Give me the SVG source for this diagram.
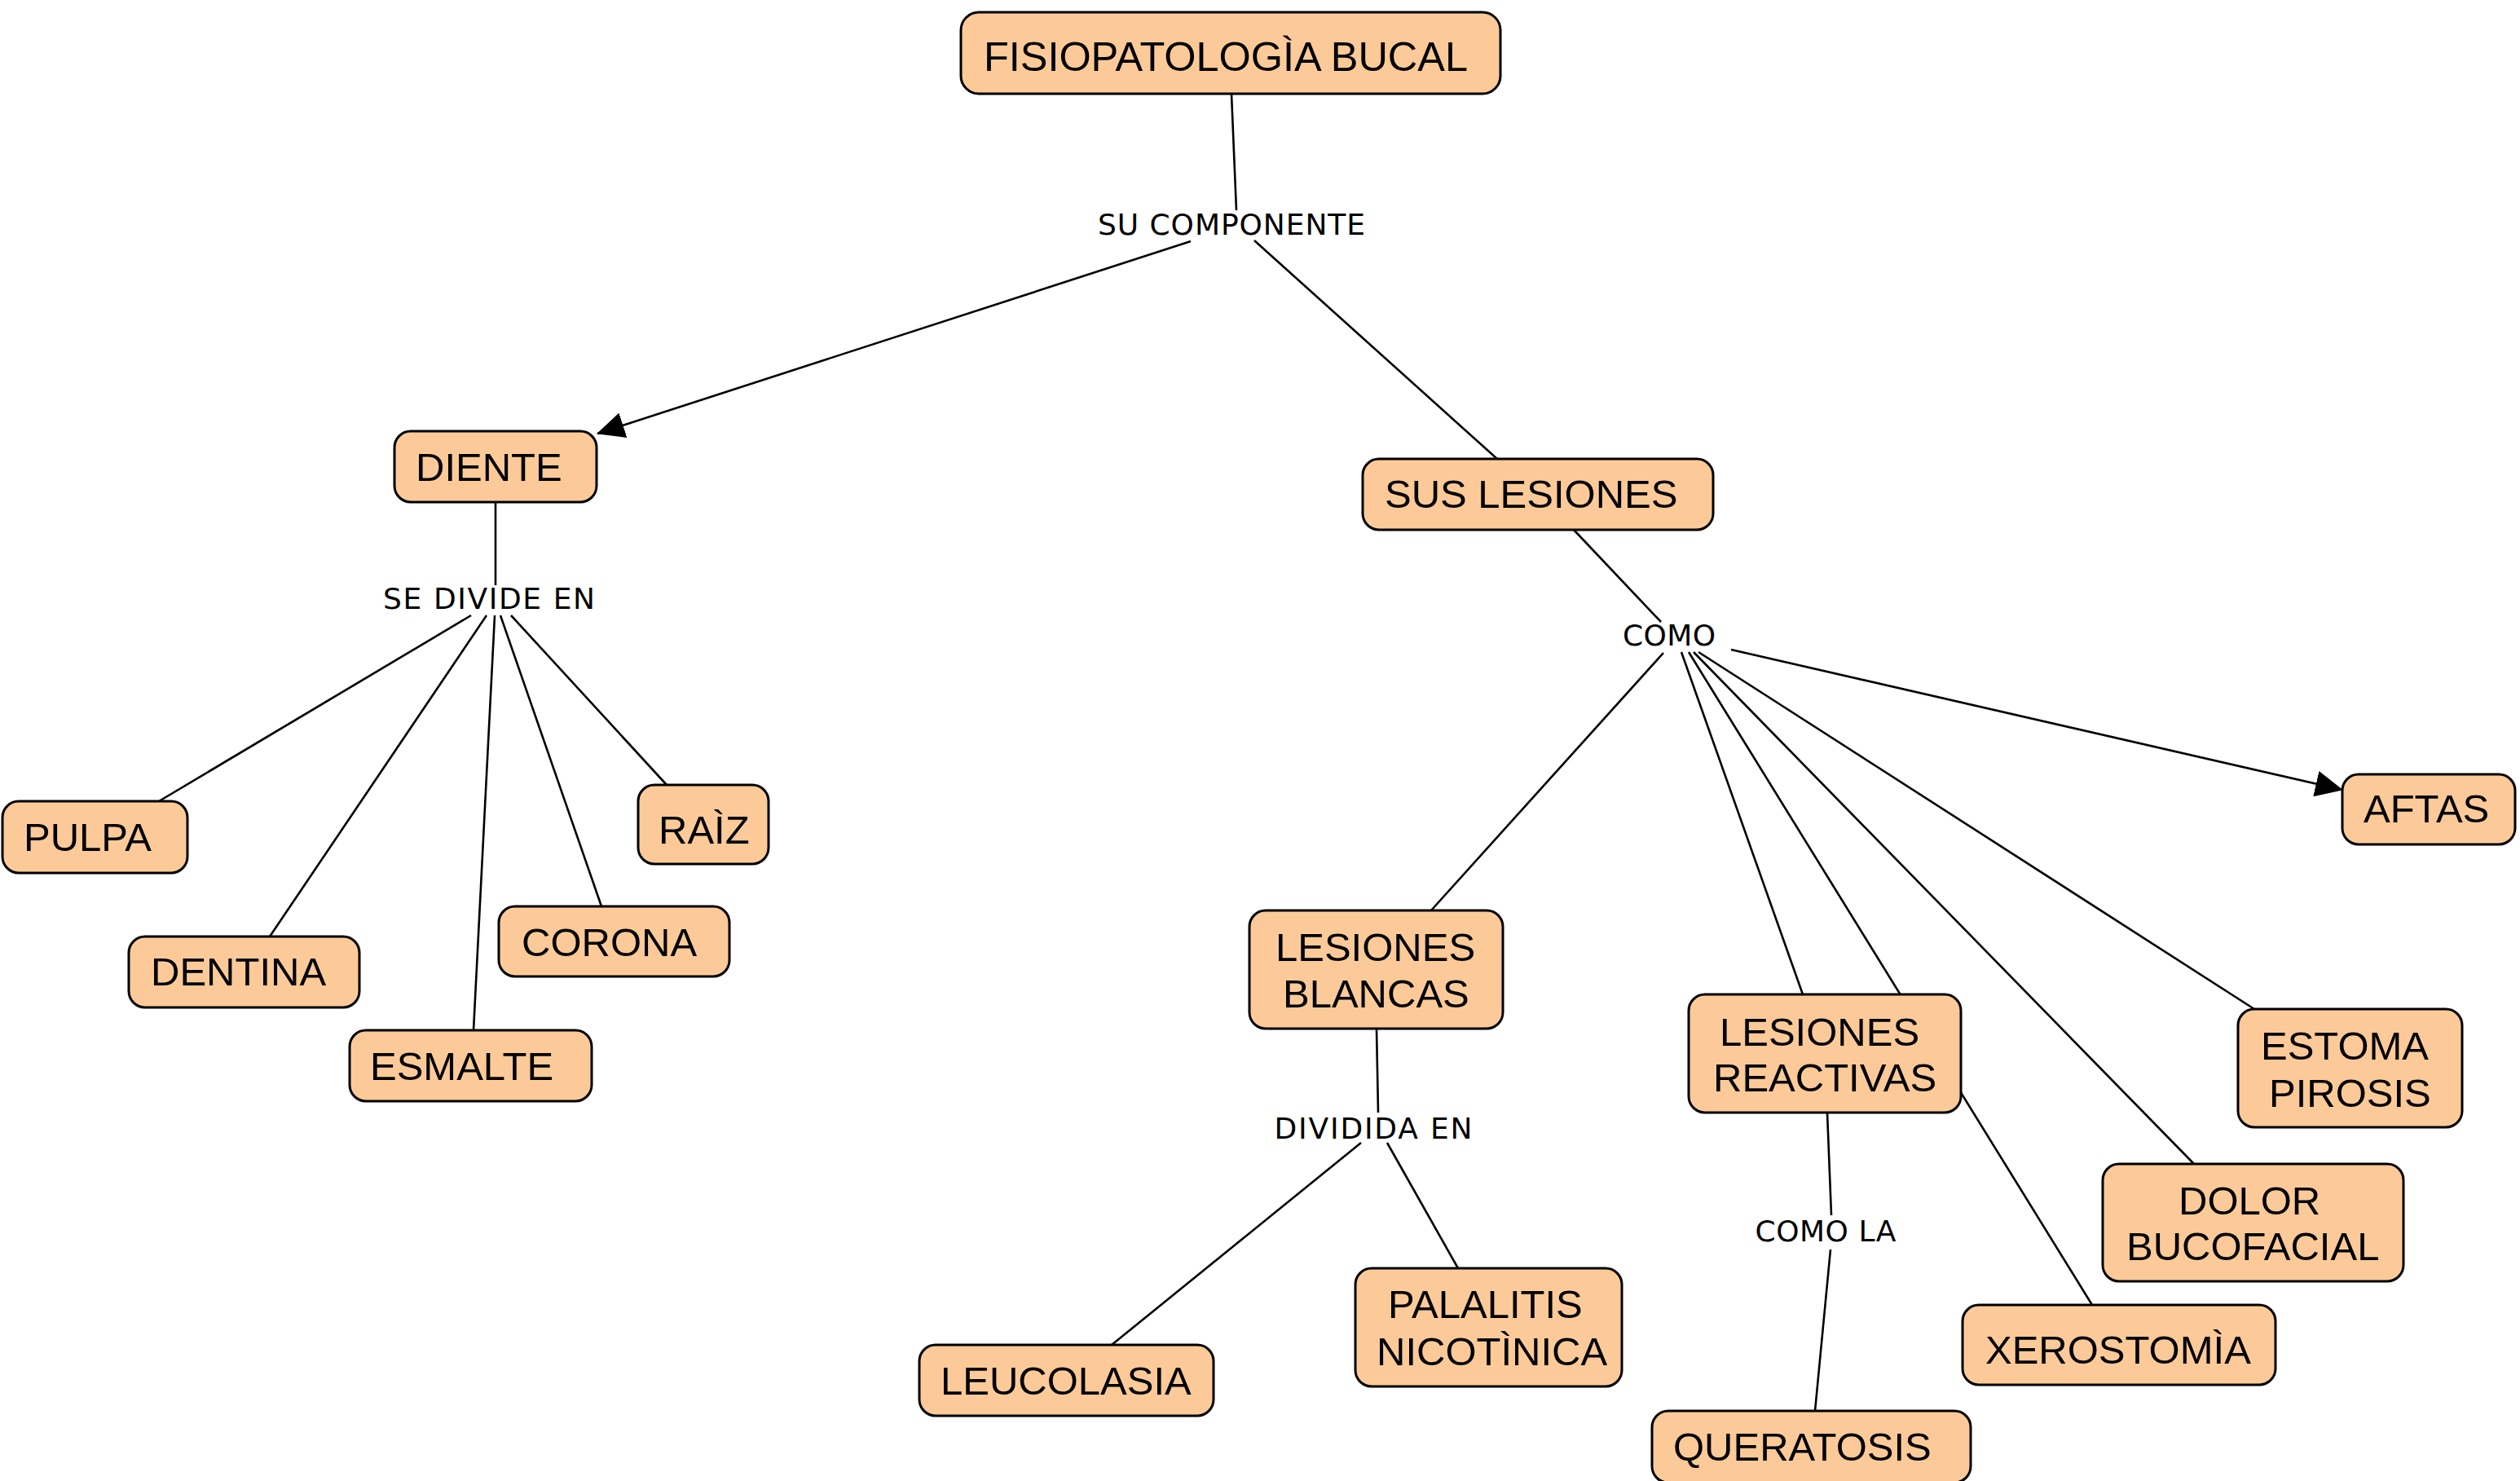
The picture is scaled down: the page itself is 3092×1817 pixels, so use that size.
<svg xmlns="http://www.w3.org/2000/svg" width="3092" height="1817" viewBox="0 0 3092 1817">
<style>
.n rect{fill:#FCCA98;stroke:#000;stroke-width:3}
.n text{font-family:"Liberation Sans",Arial,sans-serif;font-size:49px;fill:#000}
.l text{font-family:"DejaVu Sans",Verdana,sans-serif;font-size:36px;fill:#000;text-anchor:middle}
#connectors line{stroke:#000;stroke-width:2.6;fill:none}
</style>
<defs>
<marker id="arr" viewBox="0 0 34 32" refX="33" refY="16" markerWidth="34" markerHeight="32" markerUnits="userSpaceOnUse" orient="auto">
<path d="M0,0 L34,16 L0,32 z" fill="#000"/>
</marker>
</defs>
<rect width="3092" height="1817" fill="#fff"/>
<g id="connectors">
<line x1="1511" y1="115" x2="1517" y2="258"/>
<line x1="1461" y1="296" x2="733" y2="532" marker-end="url(#arr)"/>
<line x1="1539" y1="295" x2="1837" y2="563"/>
<line x1="608" y1="616" x2="608" y2="718"/>
<line x1="578" y1="755" x2="195" y2="983"/>
<line x1="597" y1="755" x2="331" y2="1149"/>
<line x1="607" y1="755" x2="581" y2="1264"/>
<line x1="614" y1="755" x2="738" y2="1112"/>
<line x1="627" y1="755" x2="818" y2="963"/>
<line x1="1931" y1="650" x2="2038" y2="763"/>
<line x1="2041" y1="801" x2="1756" y2="1117"/>
<line x1="2063" y1="800" x2="2212" y2="1220"/>
<line x1="2072" y1="800" x2="2567" y2="1601"/>
<line x1="2078" y1="800" x2="2692" y2="1428"/>
<line x1="2084" y1="800" x2="2766" y2="1238"/>
<line x1="2124" y1="797" x2="2874" y2="969" marker-end="url(#arr)"/>
<line x1="1689" y1="1262" x2="1691" y2="1365"/>
<line x1="1670" y1="1402" x2="1364" y2="1650"/>
<line x1="1702" y1="1402" x2="1789" y2="1556"/>
<line x1="2242" y1="1365" x2="2247" y2="1491"/>
<line x1="2246" y1="1533" x2="2227" y2="1731"/>
</g>
<g class="l">
<text id="lbl-su-componente" x="1511" y="288" textLength="328">SU COMPONENTE</text>
<text id="lbl-se-divide-en" x="600" y="747" textLength="260">SE DIVIDE EN</text>
<text id="lbl-como" x="2048" y="792" textLength="114">COMO</text>
<text id="lbl-dividida-en" x="1685" y="1397" textLength="243">DIVIDIDA EN</text>
<text id="lbl-como-la" x="2240" y="1523" textLength="173">COMO LA</text>
</g>
<g class="n" id="n-fisiopatologia"><rect x="1179" y="15" width="662" height="100" rx="22"/><text x="1207" y="87" style="font-size:50.5px" textLength="594">FISIOPATOLOGÌA BUCAL</text></g>
<g class="n" id="n-diente"><rect x="484" y="529" width="248" height="87" rx="20"/><text x="510" y="590">DIENTE</text></g>
<g class="n" id="n-sus-lesiones"><rect x="1672" y="563" width="430" height="87" rx="20"/><text x="1699" y="623">SUS LESIONES</text></g>
<g class="n" id="n-pulpa"><rect x="3" y="983" width="227" height="88" rx="20"/><text x="29" y="1044">PULPA</text></g>
<g class="n" id="n-raiz"><rect x="783" y="963" width="160" height="97" rx="20"/><text x="808" y="1035">RAÌZ</text></g>
<g class="n" id="n-dentina"><rect x="158" y="1149" width="283" height="87" rx="20"/><text x="185" y="1209">DENTINA</text></g>
<g class="n" id="n-corona"><rect x="612" y="1112" width="283" height="86" rx="20"/><text x="640" y="1173">CORONA</text></g>
<g class="n" id="n-esmalte"><rect x="429" y="1264" width="297" height="87" rx="20"/><text x="454" y="1325">ESMALTE</text></g>
<g class="n" id="n-lesiones-blancas"><rect x="1533" y="1117" width="311" height="145" rx="20"/><text x="1565" y="1179">LESIONES</text><text x="1574" y="1236">BLANCAS</text></g>
<g class="n" id="n-lesiones-reactivas"><rect x="2072" y="1220" width="334" height="145" rx="20"/><text x="2110" y="1283">LESIONES</text><text x="2102" y="1339">REACTIVAS</text></g>
<g class="n" id="n-queratosis"><rect x="2027" y="1731" width="391" height="88" rx="20"/><text x="2053" y="1792">QUERATOSIS</text></g>
<g class="n" id="n-xerostomia"><rect x="2408" y="1601" width="384" height="98" rx="20"/><text x="2436" y="1673">XEROSTOMÌA</text></g>
<g class="n" id="n-aftas"><rect x="2874" y="950" width="212" height="86" rx="20"/><text x="2900" y="1009">AFTAS</text></g>
<g class="n" id="n-estoma-pirosis"><rect x="2746" y="1238" width="275" height="145" rx="20"/><text x="2774" y="1300">ESTOMA</text><text x="2784" y="1358">PIROSIS</text></g>
<g class="n" id="n-dolor-bucofacial"><rect x="2580" y="1428" width="369" height="144" rx="20"/><text x="2673" y="1490">DOLOR</text><text x="2609" y="1546">BUCOFACIAL</text></g>
<g class="n" id="n-leucolasia"><rect x="1128" y="1650" width="361" height="87" rx="20"/><text x="1154" y="1711">LEUCOLASIA</text></g>
<g class="n" id="n-palalitis"><rect x="1663" y="1556" width="327" height="145" rx="20"/><text x="1703" y="1617">PALALITIS</text><text x="1689" y="1675">NICOTÌNICA</text></g>
</svg>
